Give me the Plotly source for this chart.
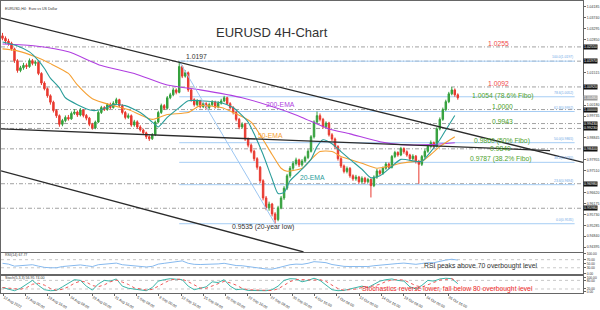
import plotly.graph_objects as go

# ---------------- data ----------------
first_open = 1.0300
closes = [1.0290, 1.0279, 1.0270, 1.0247, 1.0199, 1.0159, 1.0170, 1.0180, 1.0175, 1.0199,
          1.0188, 1.0192, 1.0147, 1.0108, 1.0085, 1.0056, 1.0030, 0.9996, 0.9975, 0.9940,
          0.9955, 0.9968, 0.9962, 0.9984, 0.9990, 0.9978, 0.9998, 0.9976, 0.9965, 0.9940,
          0.9925, 0.9949, 0.9988, 1.0008, 1.0000, 1.0020, 1.0008, 1.0026, 1.0040, 1.0016,
          0.9988, 0.9968, 0.9975, 0.9937, 0.9950, 0.9929, 0.9917, 0.9905, 0.9889, 0.9881,
          0.9897, 0.9949, 0.9988, 1.0016, 1.0005, 1.0048, 1.0060, 1.0080, 1.0070, 1.0175,
          1.0136, 1.0150, 1.0080, 1.0040, 1.0020, 1.0035, 1.0012, 1.0024, 1.0008, 1.0020,
          1.0030, 1.0010, 1.0026, 1.0035, 1.0048, 1.0024, 1.0008, 0.9988, 0.9960, 0.9929,
          0.9940, 0.9880, 0.9855, 0.9830, 0.9800, 0.9765, 0.9710, 0.9640, 0.9600, 0.9615,
          0.9575, 0.9552, 0.9600, 0.9640, 0.9680, 0.9730, 0.9761, 0.9780, 0.9795, 0.9775,
          0.9790, 0.9805, 0.9830, 0.9889, 0.9949, 0.9975, 0.9960, 0.9930, 0.9945, 0.9897,
          0.9880, 0.9849, 0.9800, 0.9770, 0.9748, 0.9760, 0.9730, 0.9718, 0.9725, 0.9706,
          0.9720, 0.9706, 0.9715, 0.9690, 0.9725, 0.9750, 0.9740, 0.9761, 0.9778, 0.9765,
          0.9809, 0.9825, 0.9815, 0.9841, 0.9828, 0.9815, 0.9800, 0.9810, 0.9789, 0.9777,
          0.9809, 0.9830, 0.9850, 0.9865, 0.9850, 0.9921, 0.9960, 1.0000, 1.0032, 1.0064,
          1.0080, 1.0060, 1.0048]
highs = [1.0312, 1.0298, 1.0288, 1.0276, 1.0252, 1.0205, 1.0178, 1.0190, 1.0188, 1.0208,
         1.0206, 1.0200, 1.0196, 1.0152, 1.0115, 1.0090, 1.0062, 1.0036, 1.0002, 0.9980,
         0.9962, 0.9976, 0.9978, 0.9992, 1.0002, 0.9996, 1.0006, 1.0002, 0.9982, 0.9970,
         0.9946, 0.9955, 0.9995, 1.0015, 1.0014, 1.0026, 1.0028, 1.0034, 1.0048, 1.0044,
         1.0022, 0.9994, 0.9984, 0.9980, 0.9958, 0.9956, 0.9936, 0.9922, 0.9910, 0.9895,
         0.9904, 0.9955, 0.9995, 1.0024, 1.0022, 1.0055, 1.0068, 1.0088, 1.0086, 1.0197,
         1.0180, 1.0160, 1.0155, 1.0086, 1.0046, 1.0042, 1.0040, 1.0032, 1.0030, 1.0028,
         1.0038, 1.0036, 1.0034, 1.0044, 1.0056, 1.0052, 1.0030, 1.0014, 0.9994, 0.9966,
         0.9948, 0.9946, 0.9886, 0.9862, 0.9836, 0.9806, 0.9770, 0.9716, 0.9648, 0.9625,
         0.9620, 0.9582, 0.9608, 0.9648, 0.9688, 0.9738, 0.9770, 0.9790, 0.9804, 0.9800,
         0.9798, 0.9812, 0.9838, 0.9896, 0.9956, 0.9992, 0.9984, 0.9966, 0.9952, 0.9950,
         0.9904, 0.9886, 0.9855, 0.9806, 0.9776, 0.9768, 0.9766, 0.9736, 0.9734, 0.9730,
         0.9728, 0.9726, 0.9722, 0.9720, 0.9732, 0.9758, 0.9756, 0.9768, 0.9786, 0.9784,
         0.9815, 0.9832, 0.9830, 0.9848, 0.9846, 0.9834, 0.9820, 0.9818, 0.9815, 0.9795,
         0.9815, 0.9838, 0.9858, 0.9874, 0.9870, 0.9928, 0.9968, 1.0008, 1.0040, 1.0072,
         1.0092, 1.0086, 1.0066]
lows = [1.0282, 1.0268, 1.0260, 1.0240, 1.0190, 1.0150, 1.0152, 1.0162, 1.0165, 1.0170,
        1.0180, 1.0178, 1.0140, 1.0100, 1.0078, 1.0048, 1.0020, 0.9988, 0.9966, 0.9930,
        0.9932, 0.9948, 0.9955, 0.9958, 0.9978, 0.9970, 0.9972, 0.9968, 0.9956, 0.9932,
        0.9918, 0.9920, 0.9945, 0.9982, 0.9994, 0.9995, 1.0002, 1.0004, 1.0020, 1.0010,
        0.9980, 0.9960, 0.9962, 0.9930, 0.9930, 0.9922, 0.9910, 0.9898, 0.9880, 0.9872,
        0.9876, 0.9892, 0.9944, 0.9982, 0.9998, 1.0000, 1.0042, 1.0054, 1.0062, 1.0066,
        1.0128, 1.0130, 1.0072, 1.0032, 1.0012, 1.0014, 1.0005, 1.0006, 1.0000, 1.0002,
        1.0014, 1.0004, 1.0005, 1.0020, 1.0030, 1.0018, 1.0000, 0.9980, 0.9952, 0.9920,
        0.9922, 0.9872, 0.9846, 0.9822, 0.9790, 0.9755, 0.9700, 0.9630, 0.9590, 0.9588,
        0.9565, 0.9535, 0.9545, 0.9594, 0.9632, 0.9672, 0.9722, 0.9752, 0.9772, 0.9766,
        0.9768, 0.9784, 0.9798, 0.9825, 0.9882, 0.9942, 0.9952, 0.9922, 0.9924, 0.9890,
        0.9872, 0.9840, 0.9792, 0.9762, 0.9740, 0.9740, 0.9722, 0.9710, 0.9710, 0.9698,
        0.9700, 0.9698, 0.9700, 0.9642, 0.9684, 0.9718, 0.9732, 0.9734, 0.9755, 0.9758,
        0.9760, 0.9802, 0.9808, 0.9810, 0.9820, 0.9808, 0.9792, 0.9794, 0.9780, 0.9698,
        0.9770, 0.9802, 0.9824, 0.9844, 0.9842, 0.9845, 0.9915, 0.9954, 0.9994, 1.0026,
        1.0058, 1.0052, 1.0040]
opens = [first_open] + closes[:-1]
bars = list(range(len(closes)))

ema20_bar = [0, 5, 9, 12, 14, 16, 19, 21, 25, 30, 33, 37, 41, 46, 50, 52, 55, 59, 62, 66,
             73, 77, 82, 84, 87, 90, 92, 94, 96, 100, 103, 105, 107, 110, 113, 116, 120, 123,
             126, 130, 133, 138, 140, 143, 146, 148, 151]
ema20 = [1.0275, 1.0259, 1.0235, 1.0199, 1.0167, 1.0128, 1.0088, 1.0048, 1.0020, 0.9996,
         1.0000, 1.0020, 1.0016, 0.9988, 0.9949, 0.9929, 0.9968, 1.0008, 1.0036, 1.0036,
         1.0028, 1.0008, 0.9949, 0.9901, 0.9817, 0.9718, 0.9658, 0.9662, 0.9710, 0.9757,
         0.9797, 0.9849, 0.9877, 0.9861, 0.9829, 0.9797, 0.9757, 0.9722, 0.9730, 0.9769,
         0.9797, 0.9789, 0.9789, 0.9829, 0.9877, 0.9917, 0.9976]
ema50_bar = [0, 5, 11, 16, 22, 25, 30, 37, 42, 50, 55, 62, 66, 73, 77, 83, 90, 93, 95, 100,
             103, 106, 110, 113, 120, 125, 129, 133, 138, 140, 143, 146, 151]
ema50 = [1.0247, 1.0239, 1.0215, 1.0187, 1.0147, 1.0100, 1.0044, 1.0016, 1.0000, 0.9960,
         0.9980, 0.9988, 1.0016, 1.0008, 0.9988, 0.9949, 0.9817, 0.9761, 0.9749, 0.9761,
         0.9797, 0.9829, 0.9829, 0.9809, 0.9781, 0.9761, 0.9769, 0.9781, 0.9789, 0.9789,
         0.9817, 0.9849, 0.9889]
ema200_bar = [0, 11, 22, 33, 44, 55, 66, 80, 93, 100, 109, 116, 126, 133, 143, 151]
ema200 = [1.0267, 1.0259, 1.0235, 1.0179, 1.0147, 1.0100, 1.0080, 1.0048, 1.0000, 0.9968,
          0.9921, 0.9901, 0.9869, 0.9857, 0.9857, 0.9865]

osc_bar = list(range(0, 153, 2))
rsi = [52, 48, 38, 40, 42, 45, 38, 32, 30, 30, 36, 38, 42, 44, 40, 36, 45, 48, 49, 53,
       45, 42, 40, 37, 34, 37, 48, 52, 56, 57, 64, 52, 47, 46, 46, 49, 49, 52, 46, 41,
       40, 35, 32, 28, 24, 23, 30, 38, 45, 48, 47, 52, 60, 58, 55, 46, 40, 37, 36, 36,
       37, 36, 40, 43, 47, 51, 51, 53, 49, 47, 51, 55, 55, 63, 68, 72, 67.77]
stoch_k = [30, 20, 8, 25, 55, 80, 45, 15, 8, 10, 35, 60, 85, 80, 40, 12, 55, 80, 75, 90,
           40, 25, 20, 12, 8, 30, 75, 85, 92, 88, 85, 40, 15, 25, 35, 70, 65, 85, 40, 15,
           20, 10, 8, 5, 8, 15, 40, 80, 92, 90, 70, 80, 95, 80, 45, 15, 8, 10, 20, 30,
           40, 30, 55, 75, 85, 90, 80, 75, 35, 20, 45, 80, 75, 90, 95, 92, 57]
stoch_d = [30, 25, 19, 18, 29, 53, 60, 47, 23, 11, 18, 35, 60, 75, 68, 44, 36, 49, 70, 82,
           68, 52, 28, 19, 13, 17, 38, 63, 84, 88, 88, 71, 47, 27, 25, 43, 57, 73, 63, 47,
           25, 15, 13, 8, 7, 9, 21, 45, 71, 87, 84, 80, 82, 85, 73, 47, 23, 11, 13, 20,
           30, 33, 42, 53, 72, 83, 85, 82, 63, 43, 33, 48, 67, 82, 87, 92, 74]

level_prices = [1.0255, 1.0197, 1.0092, 1.0000, 0.9943, 0.9923, 0.9840, 0.9698, 0.9598]
fibo_prices = [1.0197, 1.0052, 0.9992, 0.9865, 0.9785, 0.9694, 0.9535]
fibo_names = ["100.0", "78.6", "61.8", "50.0", "38.2", "23.6", "0.0"]
fibo_bar_span = [59, 191]
fibo_swing_bar = [59, 91]
fibo_swing_price = [1.0197, 0.9535]
current_price = 1.0048

trend_upper_bar, trend_upper_price = [-0.5, 193.8], [1.0372, 0.9785]
trend_mid_bar, trend_mid_price = [-0.5, 182.8], [0.9921, 0.9833]
trend_low_bar, trend_low_price = [-0.5, 100.5], [0.9750, 0.9420]

tick_labels = ["12 Aug 2022", "17 Aug 00:00", "19 Aug 16:00", "24 Aug 08:00", "29 Aug 00:00",
               "31 Aug 16:00", "5 Sep 08:00", "8 Sep 00:00", "12 Sep 16:00", "15 Sep 08:00",
               "20 Sep 00:00", "22 Sep 16:00", "27 Sep 08:00", "30 Sep 00:00", "4 Oct 16:00",
               "7 Oct 08:00", "12 Oct 00:00", "14 Oct 16:00", "19 Oct 08:00", "24 Oct 00:00",
               "26 Oct 16:00"]
tick_bars = [0.2 + 7.43 * k for k in range(len(tick_labels))]

# (text, bar, price, color) labels on the price panel
price_labels = [
    ("1.0255", 165.5, 1.0268, "#f04a4a"),
    ("1.0092", 165.5, 1.0108, "#f04a4a"),
    ("1.0054 (78.6% Fibo)", 167, 1.0057, "#4fa22e"),
    ("1.0000", 167, 1.0012, "#4fa22e"),
    ("0.9943", 167, 0.9953, "#4fa22e"),
    ("0.9860 (50% Fibo)", 166.8, 0.9873, "#4fa22e"),
    ("0.9840", 166.2, 0.9841, "#4fa22e"),
    ("0.9787 (38.2% Fibo)", 166.5, 0.9797, "#4fa22e"),
    ("0.9535 (20-year low)", 86.8, 0.9522, "#333333"),
    ("200-EMA", 92.8, 1.0020, "#b03ee0"),
    ("50-EMA", 89.5, 0.9893, "#f5a033"),
    ("20-EMA", 103.5, 0.9722, "#2a9d9a"),
]

# ---------------- figure ----------------
GREEN = "#34a03c"
RED = "#e8392f"
fig = go.Figure()

fig.add_trace(go.Candlestick(
    x=bars, open=opens, high=highs, low=lows, close=closes,
    increasing=dict(line=dict(color=GREEN, width=1), fillcolor=GREEN),
    decreasing=dict(line=dict(color=RED, width=1), fillcolor=RED),
    whiskerwidth=0, xaxis="x", yaxis="y", showlegend=False, hoverinfo="skip"))

for bx, py, col, w in [(ema200_bar, ema200, "#b03ee0", 1.1),
                       (ema50_bar, ema50, "#f5a033", 1.1),
                       (ema20_bar, ema20, "#2a9d9a", 1.1)]:
    fig.add_trace(go.Scatter(x=bx, y=py, mode="lines", line=dict(color=col, width=w, shape="spline", smoothing=0.6),
                             xaxis="x", yaxis="y", showlegend=False, hoverinfo="skip"))

# fibo swing diagonal
fig.add_trace(go.Scatter(x=fibo_swing_bar, y=fibo_swing_price, mode="lines",
                         line=dict(color="#9cc6f2", width=1), xaxis="x", yaxis="y",
                         showlegend=False, hoverinfo="skip"))
# trend lines
for bx, py in [(trend_upper_bar, trend_upper_price), (trend_mid_bar, trend_mid_price),
               (trend_low_bar, trend_low_price)]:
    fig.add_trace(go.Scatter(x=bx, y=py, mode="lines", line=dict(color="#2b2b2b", width=1.3),
                             xaxis="x", yaxis="y", showlegend=False, hoverinfo="skip"))

# RSI
fig.add_trace(go.Scatter(x=osc_bar, y=rsi, mode="lines", line=dict(color="#86b9ee", width=1),
                         xaxis="x2", yaxis="y2", showlegend=False, hoverinfo="skip"))
# Stochastic
fig.add_trace(go.Scatter(x=osc_bar, y=stoch_k, mode="lines", line=dict(color="#3bb5a8", width=1),
                         xaxis="x3", yaxis="y3", showlegend=False, hoverinfo="skip"))
fig.add_trace(go.Scatter(x=osc_bar, y=stoch_d, mode="lines", line=dict(color="#f05a5a", width=1, dash="dot"),
                         xaxis="x3", yaxis="y3", showlegend=False, hoverinfo="skip"))

shapes = []
for p in level_prices:
    shapes.append(dict(type="line", xref="paper", x0=0, x1=1, yref="y", y0=p, y1=p,
                       line=dict(color="#8a8a8a", width=0.8, dash="4px,2px,1px,2px"), layer="below"))
for p in fibo_prices:
    shapes.append(dict(type="line", xref="x", x0=fibo_bar_span[0], x1=fibo_bar_span[1], yref="y", y0=p, y1=p,
                       line=dict(color="#a6cdf4", width=1), layer="below"))
for lv in (30, 70):
    shapes.append(dict(type="line", xref="paper", x0=0, x1=1, yref="y2", y0=lv, y1=lv,
                       line=dict(color="#b0b0b0", width=0.7, dash="dot"), layer="below"))
for lv in (20, 80):
    shapes.append(dict(type="line", xref="paper", x0=0, x1=1, yref="y3", y0=lv, y1=lv,
                       line=dict(color="#b0b0b0", width=0.7, dash="dot"), layer="below"))

ann = []
for text, bx, py, col in price_labels:
    ann.append(dict(text=text, x=bx, y=py, xref="x", yref="y", showarrow=False,
                    font=dict(size=6.8, color=col)))
ann.append(dict(text="1.0197", x=60.6, y=1.0215, xref="x", yref="y", xanchor="left",
                showarrow=False, font=dict(size=6.8, color="#333333")))
ann.append(dict(text="EURUSD 4H-Chart", x=0.465, y=0.926, xref="paper", yref="paper",
                showarrow=False, font=dict(size=13, color="#333333")))
ann.append(dict(text="EURUSD,H4:  Euro vs US Dollar", x=0.003, y=0.988, xref="paper", yref="paper",
                xanchor="left", showarrow=False, font=dict(size=3.6, color="#333333")))
ann.append(dict(text="RSI(14) 67.77", x=0.003, y=92, xref="paper", yref="y2",
                xanchor="left", showarrow=False, font=dict(size=3.6, color="#333333")))
ann.append(dict(text="Stoch(5,3,3) 56.95 74.00", x=0.003, y=96, xref="paper", yref="y3",
                xanchor="left", showarrow=False, font=dict(size=3.6, color="#333333")))
ann.append(dict(text="RSI peaks above 70 overbought level", x=159.5, y=40, xref="x2", yref="y2",
                showarrow=False, font=dict(size=6.8, color="#333333")))
ann.append(dict(text="Stochastics reverse lower, fall below 80 overbought level", x=148.5, y=19,
                xref="x3", yref="y3", showarrow=False, font=dict(size=6.8, color="#f02a2a")))
box_prices = level_prices + [current_price]
for p in level_prices:
    ann.append(dict(text=f"{p:.5f}", x=1.0, y=p, xref="paper", yref="y", xanchor="left",
                    showarrow=False, bgcolor="#111111", borderpad=0,
                    font=dict(size=3.6, color="white")))
ann.append(dict(text=f"{current_price:.5f}", x=1.0, y=current_price, xref="paper", yref="y",
                xanchor="left", showarrow=False, bgcolor="#9a9a9a", borderpad=0,
                font=dict(size=3.6, color="white")))
for name, p in zip(fibo_names, fibo_prices):
    ann.append(dict(text=f"{name}({p:.4f})", x=fibo_bar_span[1], y=p, xref="x", yref="y",
                    xanchor="right", yanchor="bottom", showarrow=False,
                    font=dict(size=3.4, color="#6fa8e6")))

# price-axis ticks, skipping the ones hidden behind the black level boxes
y_range = [0.9420, 1.0442]
price_ticks = []
t = 0.94395
while t < y_range[1]:
    if all(abs(t - b) > 0.0017 for b in box_prices):
        price_ticks.append(round(t, 5))
    t += 0.00445

axis_common = dict(showline=True, mirror=True, linecolor="#666666", linewidth=1,
                   showgrid=False, zeroline=False)
xr = [-0.5, 193.8]
fig.update_layout(
    width=600, height=310,
    margin=dict(l=0, r=17, t=1, b=10),
    paper_bgcolor="white", plot_bgcolor="white",
    font=dict(family="Liberation Sans, Arial, sans-serif", color="#333333"),
    showlegend=False,
    shapes=shapes, annotations=ann,
    xaxis=dict(domain=[0, 1], anchor="y", range=xr, showticklabels=False, ticks="",
               rangeslider=dict(visible=False), **axis_common),
    xaxis2=dict(domain=[0, 1], anchor="y2", range=xr, matches="x", showticklabels=False, ticks="",
                **axis_common),
    xaxis3=dict(domain=[0, 1], anchor="y3", range=xr, matches="x", tickvals=tick_bars,
                ticktext=tick_labels, ticks="outside", ticklen=2, tickcolor="#666666",
                ticklabelposition="outside right", tickfont=dict(size=3.6, color="#333333"),
                **axis_common),
    yaxis=dict(domain=[0.1405, 1.0], anchor="x", range=y_range, side="right",
               tickvals=price_ticks, tickformat=".5f", ticks="outside", ticklen=2,
               tickcolor="#666666", tickfont=dict(size=3.5, color="#333333"), **axis_common),
    yaxis2=dict(domain=[0.0635, 0.1371], anchor="x2", range=[-3, 103], side="right",
                tickvals=[0, 30, 50, 70, 100], tickformat=".2f", ticks="outside", ticklen=2,
                tickcolor="#666666", tickfont=dict(size=3.3, color="#333333"), **axis_common),
    yaxis3=dict(domain=[0.0, 0.0569], anchor="x3", range=[-8, 108], side="right",
                tickvals=[0, 20, 80, 100], tickformat=".2f", ticks="outside", ticklen=2,
                tickcolor="#666666", tickfont=dict(size=3.3, color="#333333"), **axis_common),
)

fig.write_html("out.html")
